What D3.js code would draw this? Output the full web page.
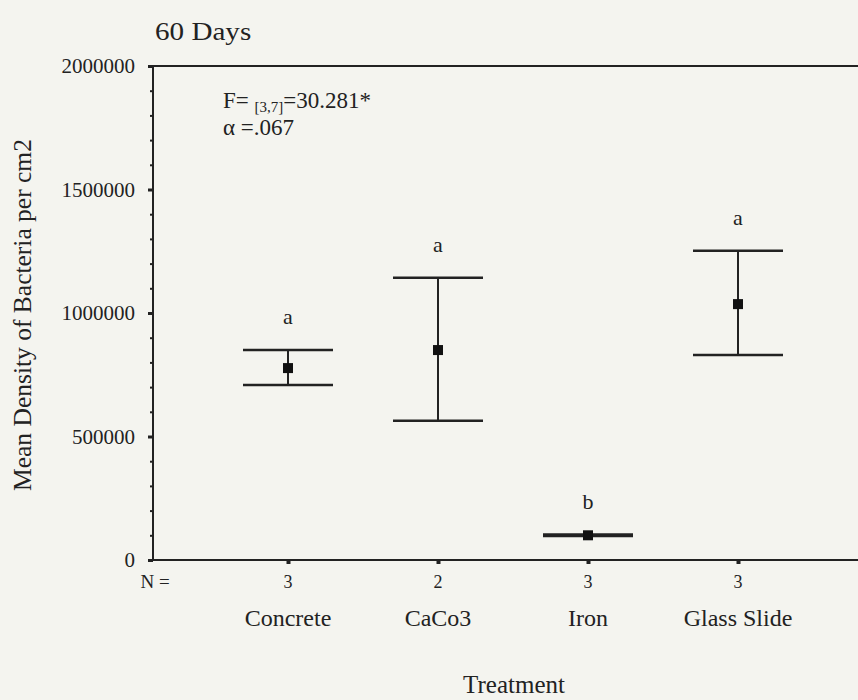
<!DOCTYPE html>
<html>
<head>
<meta charset="utf-8">
<script src="https://cdn.jsdelivr.net/npm/d3@7"></script>
<style>
  html, body { margin: 0; padding: 0; background: #f4f4ef; }
  svg { display: block; }
  text { font-family: "Liberation Serif", "Times New Roman", serif; fill: #222; }
</style>
</head>
<body>
<svg id="chart" width="858" height="700"></svg>
<script>
const categories = ["Concrete", "CaCo3", "Iron", "Glass Slide"];
const nValues = [3, 2, 3, 3];
const means = [777000, 850000, 100000, 1036000];
const lowers = [708000, 564000, 97000, 830000];
const uppers = [850000, 1143000, 103000, 1252000];
const groupLetters = ["a", "a", "b", "a"];
const yTicks = [0, 500000, 1000000, 1500000, 2000000];
const title = "60 Days";

const svg = d3.select("#chart");
const ink = "#222";

const y = d3.scaleLinear().domain([0, 2000000]).range([560, 66]);
const x = d3.scalePoint().domain(categories).range([153, 873]).padding(0.9);

// title
svg.append("text").attr("x", 155).attr("y", 40)
  .attr("font-size", 26).attr("transform", "translate(155,0) scale(1.12,1) translate(-155,0)")
  .text(title);

// y axis with minor ticks
const yAxisG = svg.append("g").attr("transform", "translate(153,0)");
yAxisG.call(d3.axisLeft(y).tickValues(d3.range(0, 2000001, 100000)).tickSize(3).tickFormat(""))
  .call(g => g.select(".domain").remove())
  .call(g => g.selectAll("line").attr("stroke", ink).attr("stroke-width", 2));
const yMajor = svg.append("g").attr("transform", "translate(153,0)");
yMajor.call(d3.axisLeft(y).tickValues(yTicks).tickSize(5).tickPadding(13).tickFormat(d3.format("d")))
  .call(g => g.select(".domain").remove())
  .call(g => g.selectAll("line").attr("stroke", ink).attr("stroke-width", 3))
  .call(g => g.selectAll("text").attr("font-size", 21).attr("fill", ink)
    .attr("font-family", "Liberation Serif, serif").attr("dy", "0.32em"));

// frame lines
svg.append("line").attr("x1", 153).attr("x2", 153).attr("y1", 66).attr("y2", 560)
  .attr("stroke", ink).attr("stroke-width", 2);
svg.append("line").attr("x1", 153).attr("x2", 858).attr("y1", y(2000000)).attr("y2", y(2000000))
  .attr("stroke", ink).attr("stroke-width", 2);

// x axis
const xAxisG = svg.append("g").attr("transform", "translate(0,560)");
xAxisG.call(d3.axisBottom(x).tickSize(4).tickFormat(""))
  .call(g => g.select(".domain").remove())
  .call(g => g.selectAll("line").attr("stroke", ink).attr("stroke-width", 4));
svg.append("line").attr("x1", 153).attr("x2", 858).attr("y1", 560).attr("y2", 560)
  .attr("stroke", ink).attr("stroke-width", 2);

// N row
svg.append("text").attr("x", 155).attr("y", 588).attr("text-anchor", "middle")
  .attr("font-size", 19).text("N =");
svg.selectAll(".nval").data(categories).join("text")
  .attr("x", d => x(d)).attr("y", 588).attr("text-anchor", "middle")
  .attr("font-size", 18).text((d, i) => nValues[i]);
svg.selectAll(".cat").data(categories).join("text")
  .attr("x", d => x(d)).attr("y", 626).attr("text-anchor", "middle")
  .attr("font-size", 24).text(d => d);

// axis titles
svg.append("text").attr("x", 514).attr("y", 693).attr("text-anchor", "middle")
  .attr("font-size", 25).text("Treatment");
svg.append("text").attr("transform", `translate(31,315) rotate(-90)`)
  .attr("text-anchor", "middle").attr("font-size", 25.5)
  .text("Mean Density of Bacteria per cm2");

// annotation
const ann = svg.append("text").attr("x", 223).attr("y", 108).attr("font-size", 23);
ann.append("tspan").text("F= ");
ann.append("tspan").attr("font-size", 15).attr("dy", 4).text("[3,7]");
ann.append("tspan").attr("dy", -4).text("=30.281*");
svg.append("text").attr("x", 223).attr("y", 135).attr("font-size", 23).text("\u03b1 =.067");

// error bars
const capHalf = 45;
const eb = svg.append("g");
categories.forEach((c, i) => {
  const cx = x(c);
  eb.append("line").attr("x1", cx).attr("x2", cx).attr("y1", y(lowers[i])).attr("y2", y(uppers[i]))
    .attr("stroke", ink).attr("stroke-width", 2);
  [lowers[i], uppers[i]].forEach(v => {
    eb.append("line").attr("x1", cx - capHalf).attr("x2", cx + capHalf)
      .attr("y1", y(v)).attr("y2", y(v)).attr("stroke", ink).attr("stroke-width", 2.5);
  });
  eb.append("rect").attr("x", cx - 5).attr("y", y(means[i]) - 5).attr("width", 10).attr("height", 10)
    .attr("fill", "#111");
  eb.append("text").attr("x", cx).attr("y", y(uppers[i]) - 26).attr("text-anchor", "middle")
    .attr("font-size", 22).text(groupLetters[i]);
});
</script>
</body>
</html>
